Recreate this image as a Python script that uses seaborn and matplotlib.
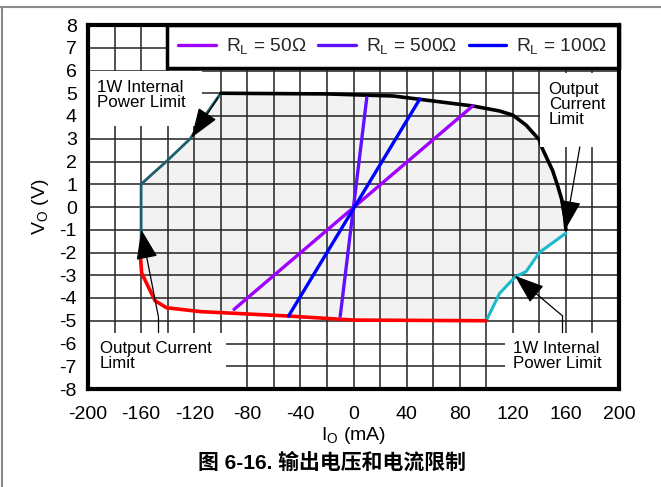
import numpy as np
import pandas as pd
import seaborn as sns
import matplotlib.pyplot as plt
from matplotlib.lines import Line2D
from matplotlib.patches import Rectangle

# ---------------- data ----------------
# load lines (I in mA, V in V)
rl_labels = ["R$_\\mathregular{L}$ = 50Ω", "R$_\\mathregular{L}$ = 500Ω", "R$_\\mathregular{L}$ = 100Ω"]
rl_colors = ["#a000ff", "#6010ff", "#0000ff"]
rl50_I = [-90, 90]
rl50_V = [-4.5, 4.45]
rl500_I = [-10, 10]
rl500_V = [-4.8, 4.8]
rl100_I = [-49, 50]
rl100_V = [-4.8, 4.75]

# limit boundaries
teal_I = [-100, -112, -123, -141, -151, -160, -160, -160]
teal_V = [5.0, 4.0, 3.0, 2.0, 1.48, 1.0, -1.0, -2.2]
top_I = [-100, -20, 30, 60, 90, 110, 120, 130, 140, 142, 146, 150, 154, 157, 159, 160]
top_V = [5.0, 4.97, 4.88, 4.66, 4.44, 4.22, 4.04, 3.6, 2.95, 2.6, 2.1, 1.6, 0.9, 0.3, -0.4, -1.0]
cyan_I = [100, 110, 122, 130, 140, 160]
cyan_V = [-5.0, -3.8, -3.06, -2.84, -2.0, -1.15]
red_I = [-160.5, -159.6, -149.5, -140.8, -115, -50, 0, 100]
red_V = [-2.2, -2.9, -4.12, -4.43, -4.6, -4.79, -4.97, -5.0]

x_ticks = list(range(-200, 201, 40))
y_ticks = list(range(-8, 9, 1))

# ---------------- style ----------------
sns.set_theme(style="white")
plt.rcParams["font.family"] = ["Liberation Sans", "Noto Sans CJK SC"]
plt.rcParams["mathtext.fontset"] = "custom"
plt.rcParams["mathtext.rm"] = "Liberation Sans"
plt.rcParams["mathtext.it"] = "Liberation Sans:italic"
plt.rcParams["mathtext.bf"] = "Liberation Sans:bold"

fig = plt.figure(figsize=(6.61, 4.87), dpi=100)
ax = fig.add_axes([88 / 661, 1 - 389 / 487, 531 / 661, 364 / 487])

# shaded safe operating region
poly_I = teal_I[::-1] + top_I + cyan_I[::-1] + red_I[::-1]
poly_V = teal_V[::-1] + top_V + cyan_V[::-1] + red_V[::-1]
ax.fill(poly_I, poly_V, color="#f2f2f2", zorder=0.2, lw=0)

# boundary curves
def draw(xs, ys, color, lw, label=None, z=3):
    df = pd.DataFrame({"I": xs, "V": ys})
    sns.lineplot(data=df, x="I", y="V", sort=False, estimator=None, color=color,
                 lw=lw, ax=ax, label=label, zorder=z, legend=False)

draw(teal_I, teal_V, "#1d5e6e", 2.0)
draw(top_I, top_V, "black", 2.6)
draw(cyan_I, cyan_V, "#1cb8cc", 2.2)
draw(red_I, red_V, "#ff0000", 2.6)

draw(rl50_I, rl50_V, rl_colors[0], 2.4, rl_labels[0])
draw(rl500_I, rl500_V, rl_colors[1], 2.4, rl_labels[1])
draw(rl100_I, rl100_V, rl_colors[2], 2.4, rl_labels[2])

# axes
ax.set_xlim(-200, 200)
ax.set_ylim(-8, 8)
ax.set_xticks(x_ticks)
ax.set_xticks(list(range(-200, 201, 20)), minor=True)
ax.set_yticks(y_ticks)
ax.set_xticklabels([str(t) for t in x_ticks])
ax.set_yticklabels([str(t) for t in y_ticks])
ax.grid(True, which="both", color="#2a2a2a", lw=1.15, zorder=0.5)
ax.set_axisbelow(True)
ax.tick_params(which="both", length=0, labelsize=14, colors="black")
ax.tick_params(axis="x", pad=12)
ax.tick_params(axis="y", pad=8)
for s in ax.spines.values():
    s.set_color("black")
    s.set_linewidth(3)
    s.set_zorder(10)
ax.set_xlabel("I$_\\mathregular{O}$ (mA)", fontsize=14, labelpad=2, color="black")
ax.set_ylabel("V$_\\mathregular{O}$ (V)", fontsize=14, labelpad=6, color="black")

# annotation boxes (white cover over grid)
boxes = [(-200, 3.56, 86, 2.44), (140.4, 2.64, 60, 3.26),
         (-200, -7.95, 104, 2.41), (114, -7.95, 86, 2.41)]
for (x0, y0, w, h) in boxes:
    ax.add_patch(Rectangle((x0, y0), w, h, facecolor="white", edgecolor="none", zorder=4))

tk = dict(fontsize=12.2, color="black", va="top", ha="left", zorder=6, linespacing=1.0)
ax.text(-193, 5.6, "1W Internal\nPower Limit", **tk)
ax.text(147, 5.5, "Output\nCurrent\nLimit", **tk)
ax.text(-191, -5.9, "Output Current\nLimit", **tk)
ax.text(120, -5.9, "1W Internal\nPower Limit", **tk)

# arrows
head = dict(arrowstyle="-|>,head_length=1.25,head_width=0.45", color="black",
            lw=0.9, mutation_scale=15, shrinkA=0, shrinkB=0)
ax.annotate("", xy=(-122, 3.05), xytext=(-102, 4.8), arrowprops=head, zorder=7)
ax.annotate("", xy=(159.5, -1.0), xytext=(170.5, 2.64), arrowprops=head, zorder=7)
ax.annotate("", xy=(-159.8, -1.0), xytext=(-147, -4.82), arrowprops=head, zorder=7)
ax.annotate("", xy=(121.5, -3.02), xytext=(156.7, -4.75), arrowprops=head, zorder=7)
ax.plot([-147, -147], [-4.82, -5.5], color="black", lw=0.9, zorder=7)
ax.plot([156.7, 156.7], [-4.75, -5.5], color="black", lw=0.9, zorder=7)

# legend
leg = ax.legend(loc="upper right", bbox_to_anchor=(1.0, 1.0),
                ncol=3, frameon=True, fancybox=False, borderaxespad=0,
                fontsize=13.8, handlelength=1.95, handletextpad=0.55, columnspacing=0.6,
                borderpad=0.6)
leg.get_frame().set_edgecolor("black")
leg.get_frame().set_linewidth(2.5)
leg.get_frame().set_facecolor("white")
leg.get_frame().set_alpha(1)
leg.set_zorder(8)

# caption
fig.text(0.503, 1 - 463 / 487, "图 6-16. 输出电压和电流限制", ha="center", va="center",
         fontsize=15, fontweight="bold", color="black")

# page borders
fig.add_artist(Line2D([0, 1], [1 - 7 / 487, 1 - 7 / 487], color="#8a8a8a", lw=1.5))
fig.add_artist(Line2D([1.5 / 661, 1.5 / 661], [0, 1 - 7 / 487], color="#8a8a8a", lw=1.5))

fig.savefig("out.png", dpi=100)
